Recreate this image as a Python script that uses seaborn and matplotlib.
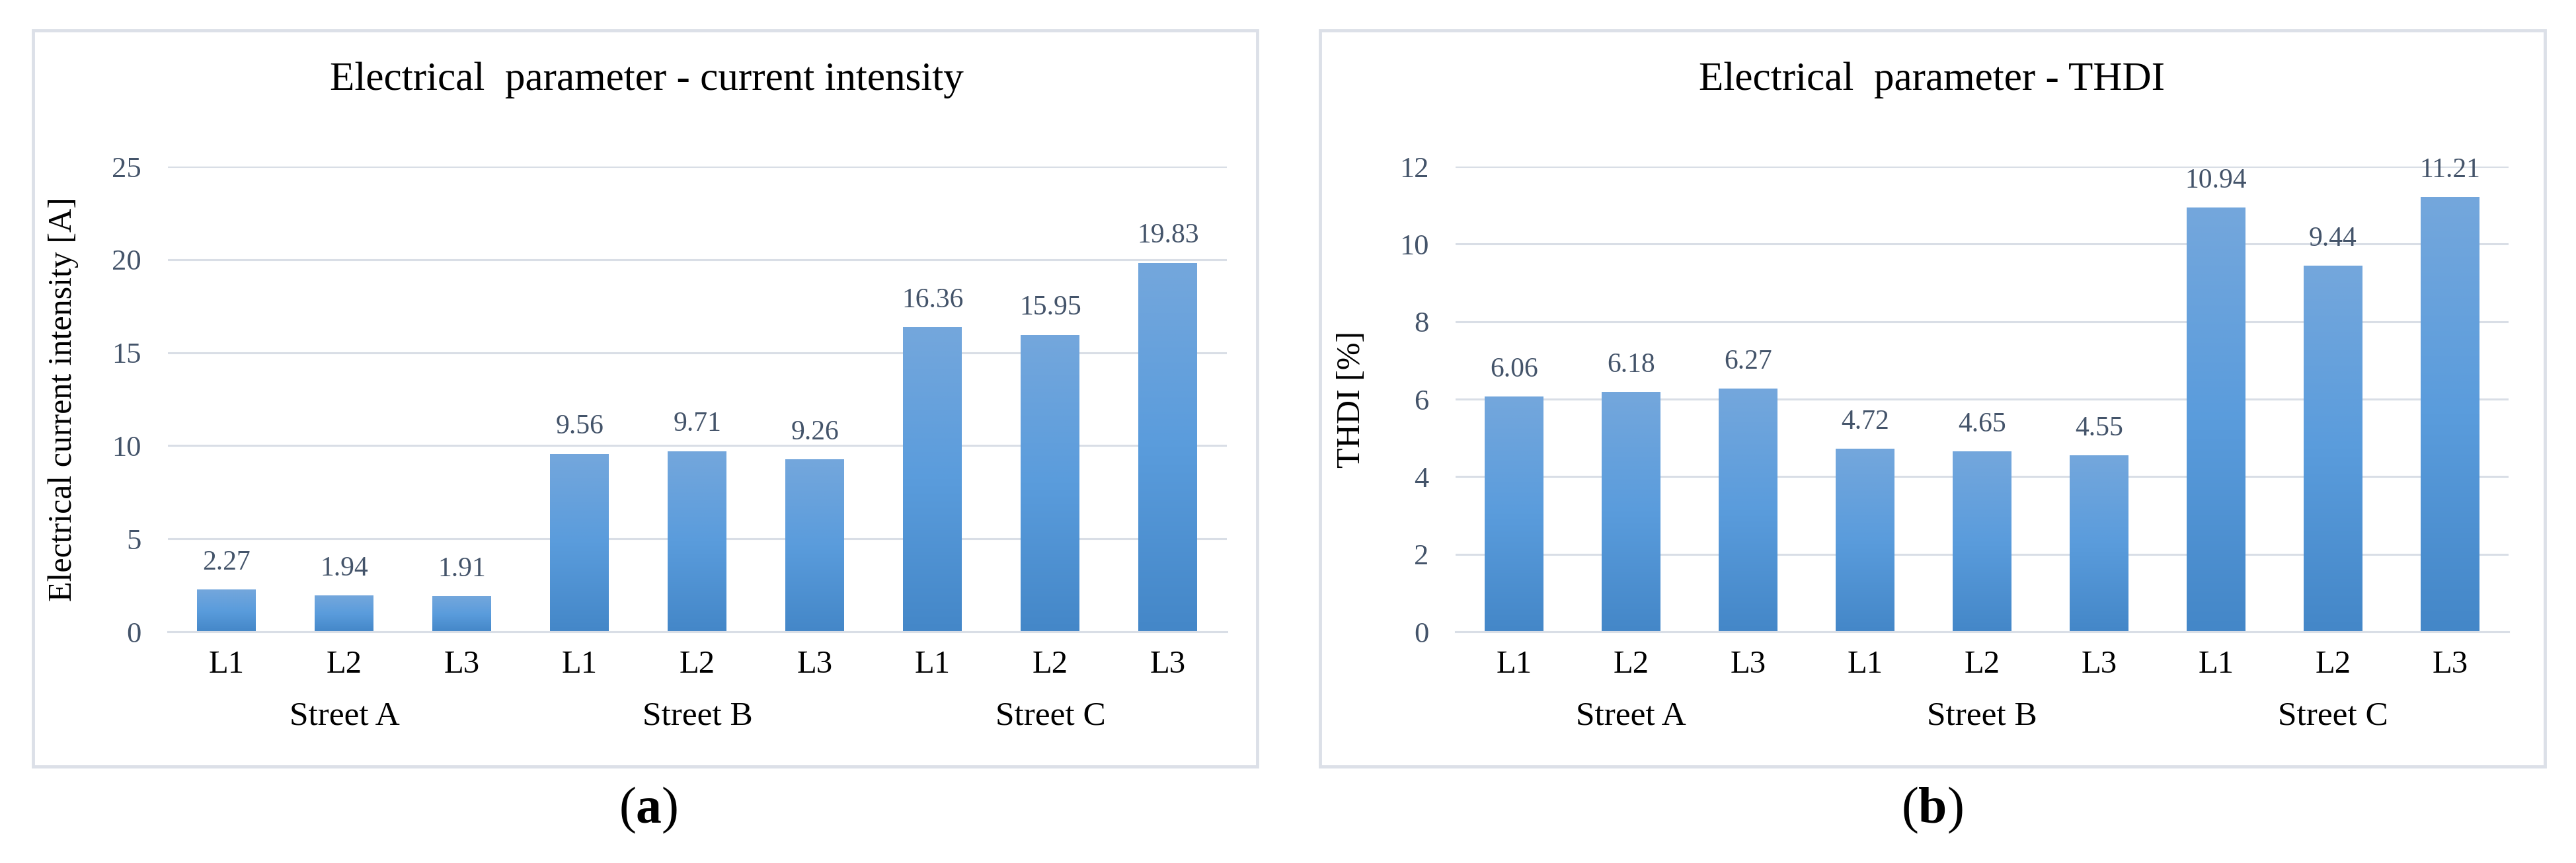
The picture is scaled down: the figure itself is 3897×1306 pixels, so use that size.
import numpy as np
import pandas as pd
import matplotlib
matplotlib.use("Agg")
import matplotlib.pyplot as plt
import matplotlib.transforms as mtransforms
from matplotlib.patches import Rectangle
from matplotlib.colors import to_rgb
import seaborn as sns

# ---- data ----
phases = ["L1", "L2", "L3", "L1", "L2", "L3", "L1", "L2", "L3"]
streets = ["Street A", "Street B", "Street C"]
current_values = [2.27, 1.94, 1.91, 9.56, 9.71, 9.26, 16.36, 15.95, 19.83]
thdi_values = [6.06, 6.18, 6.27, 4.72, 4.65, 4.55, 10.94, 9.44, 11.21]
current_ticks = [0, 5, 10, 15, 20, 25]
thdi_ticks = [0, 2, 4, 6, 8, 10, 12]

sns.set_theme(style="white")
plt.rcParams["font.family"] = ["Liberation Serif", "DejaVu Serif"]
plt.rcParams["mathtext.fontset"] = "custom"
plt.rcParams["mathtext.rm"] = "Liberation Serif"
plt.rcParams["mathtext.bf"] = "Liberation Serif:bold"

W, H = 3897, 1306
fig = plt.figure(figsize=(W / 100, H / 100), dpi=100)

TICK_COLOR = "#44546A"
GRID_COLOR = "#D9DEE6"
FRAME_COLOR = "#DCE0E8"
c_top, c_mid, c_bot = to_rgb("#74A7DC"), to_rgb("#5A9CDC"), to_rgb("#4487C8")


def px_rect(x0, y0, x1, y1):
    return [x0 / W, 1 - y1 / H, (x1 - x0) / W, (y1 - y0) / H]


def gradient_bars(ax):
    n = 256
    t = np.linspace(0, 1, n)  # 0 bottom -> 1 top
    cols = np.zeros((n, 1, 3))
    for i, tt in enumerate(t):
        if tt < 0.5:
            f = tt / 0.5
            c = [c_bot[k] * (1 - f) + c_mid[k] * f for k in range(3)]
        else:
            f = (tt - 0.5) / 0.5
            c = [c_mid[k] * (1 - f) + c_top[k] * f for k in range(3)]
        cols[i, 0, :] = c
    for bar in list(ax.patches):
        x0, y0 = bar.get_x(), bar.get_y()
        w, h = bar.get_width(), bar.get_height()
        im = ax.imshow(cols, extent=[x0, x0 + w, y0, y0 + h], aspect="auto",
                       origin="lower", zorder=bar.get_zorder() + 0.1,
                       interpolation="bilinear")
        im.set_clip_path(bar)


def panel(frame, axrect, values, ticks, title, ylabel, caption, title_x, cap_x):
    fx0, fy0, fx1, fy1 = frame
    fig.patches.append(Rectangle((fx0 / W, 1 - fy1 / H), (fx1 - fx0) / W, (fy1 - fy0) / H,
                                 transform=fig.transFigure, fill=False,
                                 edgecolor=FRAME_COLOR, linewidth=3.5))
    ax = fig.add_axes(px_rect(*axrect))
    df = pd.DataFrame({"pos": np.arange(len(values)), "value": values})
    sns.barplot(data=df, x="pos", y="value", color="#5B9BD5", width=0.5,
                ax=ax, saturation=1, linewidth=0, zorder=2)
    gradient_bars(ax)
    ax.set_xlim(-0.5, len(values) - 0.5)
    ax.set_ylim(ticks[0], ticks[-1])
    ax.set_yticks(ticks)
    ax.set_yticklabels([str(t) for t in ticks])
    ax.set_xticks(np.arange(len(values)))
    ax.set_xticklabels(phases)
    ax.tick_params(axis="y", length=0, pad=29, labelsize=32, labelcolor=TICK_COLOR)
    ax.tick_params(axis="x", length=0, pad=20, labelsize=35, labelcolor="black")
    ax.yaxis.grid(True, color=GRID_COLOR, linewidth=2.2)
    ax.set_axisbelow(True)
    for s in ["top", "right", "left"]:
        ax.spines[s].set_visible(False)
    ax.spines["bottom"].set_color(GRID_COLOR)
    ax.spines["bottom"].set_linewidth(2.2)
    ax.set_xlabel("")
    ax.set_ylabel(ylabel, fontsize=36, color="black")
    ax.yaxis.set_label_coords(-0.084, 0.5)
    for i, v in enumerate(values):
        ax.annotate(f"{v:.2f}", (i, v), xytext=(0, 22), textcoords="offset points",
                    ha="center", va="baseline", fontsize=30, color=TICK_COLOR)
    trans = mtransforms.blended_transform_factory(ax.transData, ax.transAxes)
    for g, name in enumerate(streets):
        ax.text(3 * g + 1, -0.182, name, transform=trans, ha="center", va="center",
                fontsize=37, color="black")
    fig.text(title_x / W, 1 - 121 / H, title, ha="center", va="center",
             fontsize=44, color="black")
    fig.text(cap_x / W, 1 - 1226 / H, caption, ha="center", va="center",
             fontsize=56, color="black")
    return ax


panel((50, 46, 1902, 1160), (254, 252, 1856, 956), current_values, current_ticks,
      "Electrical  parameter - current intensity", "Electrical current intensity [A]",
      r"($\mathbf{a}$)", 978, 981)
panel((1997, 46, 3850, 1160), (2202, 252, 3795, 956), thdi_values, thdi_ticks,
      "Electrical  parameter - THDI", "THDI [%]",
      r"($\mathbf{b}$)", 2923, 2923)

fig.savefig("out.png", dpi=100, facecolor="white")
